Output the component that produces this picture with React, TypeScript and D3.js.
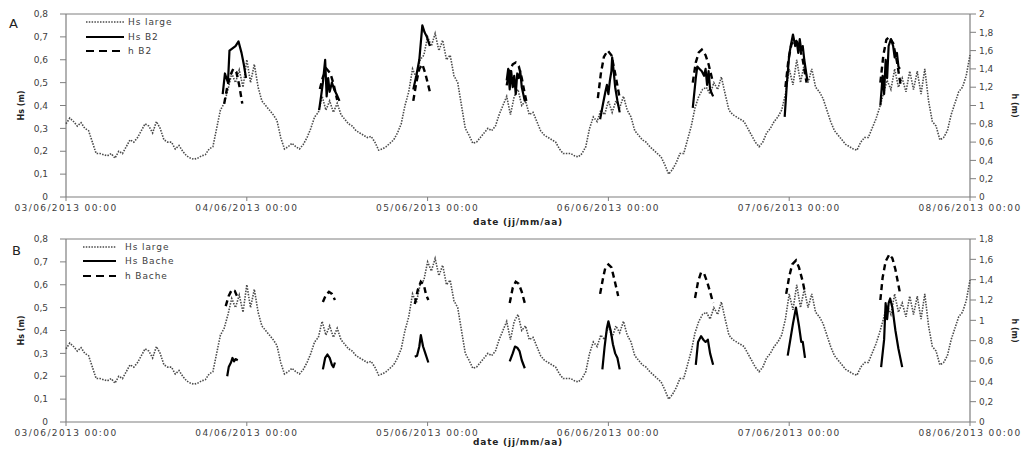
import React from "react";
import * as d3 from "d3";

const FONT = "'DejaVu Sans', Verdana, sans-serif";

// x axis: hours since 03/06/2013 00:00
const xTickHours = [0, 24, 48, 72, 96, 120];
const xTickLabels = [
  "03/06/2013 00:00",
  "04/06/2013 00:00",
  "05/06/2013 00:00",
  "06/06/2013 00:00",
  "07/06/2013 00:00",
  "08/06/2013 00:00",
];
const leftTicks = [0, 0.1, 0.2, 0.3, 0.4, 0.5, 0.6, 0.7, 0.8];
const rightTicksA = [0, 0.2, 0.4, 0.6, 0.8, 1, 1.2, 1.4, 1.6, 1.8, 2];
const rightTicksB = [0, 0.2, 0.4, 0.6, 0.8, 1, 1.2, 1.4, 1.6, 1.8];

// Hs large, half-hourly from 03/06/2013 00:00
const hsLargeStep = 0.5;
const hsLarge = [
  0.32, 0.345, 0.33, 0.31, 0.325, 0.3, 0.29, 0.24, 0.19, 0.19, 0.185, 0.18, 0.19, 0.17, 0.2, 0.19, 0.22, 0.25, 0.24, 0.26, 0.29, 0.32, 0.31, 0.28,
  0.33, 0.3, 0.25, 0.24, 0.24, 0.21, 0.225, 0.2, 0.18, 0.17, 0.165, 0.17, 0.18, 0.185, 0.21, 0.22, 0.3, 0.38, 0.41, 0.47, 0.54, 0.5, 0.555, 0.48,
  0.6, 0.5, 0.58, 0.48, 0.42, 0.4, 0.38, 0.36, 0.335, 0.26, 0.21, 0.22, 0.235, 0.22, 0.21, 0.23, 0.26, 0.3, 0.35, 0.37, 0.44, 0.38, 0.42, 0.37,
  0.41, 0.36, 0.34, 0.32, 0.31, 0.29, 0.28, 0.27, 0.26, 0.265, 0.24, 0.205, 0.21, 0.22, 0.235, 0.25, 0.28, 0.32, 0.4, 0.46, 0.56, 0.52, 0.6, 0.62,
  0.7, 0.66, 0.715, 0.64, 0.685, 0.6, 0.62, 0.53, 0.5, 0.4, 0.3, 0.27, 0.235, 0.24, 0.26, 0.28, 0.3, 0.29, 0.31, 0.36, 0.4, 0.44, 0.36, 0.44,
  0.47, 0.4, 0.42, 0.36, 0.37, 0.33, 0.29, 0.27, 0.26, 0.25, 0.24, 0.21, 0.19, 0.19, 0.19, 0.18, 0.175, 0.19, 0.22, 0.3, 0.35, 0.33, 0.38, 0.36,
  0.42, 0.37, 0.42, 0.39, 0.44, 0.38, 0.35, 0.29, 0.27, 0.25, 0.24, 0.22, 0.205, 0.19, 0.175, 0.14, 0.1, 0.12, 0.15, 0.19, 0.19, 0.25, 0.31, 0.39,
  0.44, 0.47, 0.48, 0.45, 0.5, 0.47, 0.525, 0.45, 0.38, 0.36, 0.35, 0.34, 0.33, 0.3, 0.27, 0.24, 0.22, 0.24, 0.28, 0.3, 0.33, 0.35, 0.38, 0.45,
  0.56, 0.49, 0.6, 0.5, 0.58, 0.5, 0.56, 0.48, 0.46, 0.43, 0.38, 0.33, 0.29, 0.27, 0.25, 0.23, 0.22, 0.21, 0.205, 0.24, 0.26, 0.26, 0.3, 0.34,
  0.39, 0.45, 0.51, 0.47, 0.56, 0.48, 0.52, 0.46, 0.55, 0.47, 0.55, 0.45, 0.56, 0.42, 0.33, 0.31, 0.25, 0.26, 0.29, 0.36, 0.41, 0.46, 0.48, 0.53,
  0.62,
];

// [hour, value] segments
const hsB2 = [
  [[20.8, 0.45], [21.1, 0.54], [21.5, 0.5], [21.7, 0.64], [22.1, 0.65], [22.5, 0.66], [22.9, 0.68], [23.3, 0.63], [23.6, 0.58], [23.9, 0.52]],
  [[33.6, 0.38], [33.9, 0.45], [34.1, 0.5], [34.4, 0.6], [34.6, 0.44], [34.8, 0.52], [35.0, 0.46], [35.3, 0.5], [35.6, 0.47], [35.9, 0.45], [36.3, 0.42]],
  [[46.1, 0.47], [46.5, 0.53], [46.9, 0.6], [47.3, 0.75], [47.6, 0.72], [47.9, 0.7], [48.3, 0.66]],
  [[58.5, 0.51], [58.7, 0.56], [58.9, 0.47], [59.1, 0.55], [59.3, 0.48], [59.5, 0.53], [59.7, 0.45], [59.9, 0.54], [60.1, 0.52], [60.3, 0.55], [60.5, 0.48], [60.7, 0.45], [60.9, 0.42]],
  [[70.9, 0.34], [71.3, 0.41], [71.6, 0.46], [71.8, 0.49], [72.0, 0.45], [72.2, 0.51], [72.4, 0.55], [72.5, 0.61], [72.7, 0.55], [72.9, 0.48], [73.2, 0.42], [73.5, 0.37]],
  [[83.2, 0.39], [83.6, 0.52], [83.8, 0.57], [84.1, 0.56], [84.4, 0.55], [84.7, 0.53], [84.9, 0.56], [85.1, 0.49], [85.3, 0.55], [85.5, 0.47], [85.9, 0.44]],
  [[95.4, 0.35], [95.7, 0.5], [96.0, 0.62], [96.2, 0.66], [96.5, 0.71], [96.8, 0.66], [97.0, 0.68], [97.2, 0.63], [97.4, 0.69], [97.6, 0.64], [97.8, 0.66], [98.0, 0.6], [98.4, 0.51]],
  [[108.1, 0.4], [108.4, 0.53], [108.6, 0.45], [108.8, 0.6], [109.0, 0.52], [109.2, 0.66], [109.5, 0.69], [109.8, 0.66], [110.0, 0.61], [110.3, 0.63], [110.5, 0.57], [110.7, 0.56]],
];

const hB2 = [
  [[21.0, 1.02], [21.4, 1.2], [21.8, 1.33], [22.2, 1.4], [22.6, 1.37], [23.0, 1.22], [23.4, 1.02]],
  [[33.7, 1.18], [34.1, 1.31], [34.6, 1.4], [35.1, 1.35], [35.5, 1.24], [36.0, 1.06]],
  [[46.1, 1.05], [46.5, 1.25], [46.9, 1.4], [47.3, 1.45], [47.7, 1.35], [48.0, 1.25], [48.3, 1.15]],
  [[58.5, 1.22], [58.9, 1.38], [59.3, 1.45], [59.7, 1.47], [60.1, 1.43], [60.5, 1.3], [60.8, 1.17], [61.1, 1.05]],
  [[70.6, 1.08], [71.0, 1.35], [71.4, 1.53], [71.9, 1.6], [72.4, 1.55], [72.9, 1.35], [73.5, 1.08]],
  [[83.2, 1.25], [83.6, 1.47], [84.0, 1.58], [84.4, 1.61], [84.9, 1.55], [85.3, 1.45], [85.8, 1.28]],
  [[95.5, 1.2], [95.9, 1.5], [96.3, 1.67], [96.8, 1.72], [97.3, 1.66], [97.8, 1.5], [98.3, 1.25]],
  [[108.1, 1.25], [108.5, 1.55], [108.9, 1.72], [109.3, 1.75], [109.8, 1.68], [110.3, 1.48], [110.8, 1.22]],
];

const hsBache = [
  [[21.4, 0.2], [21.6, 0.24], [21.9, 0.26], [22.1, 0.28], [22.3, 0.265], [22.5, 0.275], [22.8, 0.27]],
  [[34.1, 0.23], [34.4, 0.28], [34.7, 0.295], [35.0, 0.28], [35.3, 0.25], [35.5, 0.24], [35.7, 0.26]],
  [[46.3, 0.285], [46.6, 0.29], [46.9, 0.33], [47.1, 0.38], [47.4, 0.33], [47.7, 0.3], [48.1, 0.26]],
  [[58.9, 0.265], [59.3, 0.3], [59.6, 0.33], [59.9, 0.325], [60.2, 0.31], [60.5, 0.27], [60.9, 0.235]],
  [[71.2, 0.23], [71.5, 0.33], [71.8, 0.41], [72.0, 0.44], [72.3, 0.4], [72.6, 0.34], [72.9, 0.3], [73.2, 0.28], [73.5, 0.23]],
  [[83.6, 0.25], [83.9, 0.35], [84.3, 0.375], [84.6, 0.36], [84.9, 0.35], [85.2, 0.36], [85.5, 0.3], [85.9, 0.25]],
  [[95.8, 0.29], [96.2, 0.37], [96.5, 0.43], [96.9, 0.5], [97.3, 0.42], [97.6, 0.35], [97.8, 0.35], [98.1, 0.28]],
  [[108.2, 0.24], [108.6, 0.36], [108.8, 0.52], [109.0, 0.45], [109.2, 0.52], [109.4, 0.54], [109.7, 0.5], [110.1, 0.4], [110.5, 0.32], [111.0, 0.24]],
];

const hBache = [
  [[21.2, 1.14], [21.6, 1.24], [22.0, 1.3], [22.4, 1.29], [22.8, 1.22]],
  [[34.1, 1.18], [34.5, 1.25], [34.9, 1.28], [35.3, 1.26], [35.7, 1.2]],
  [[46.3, 1.16], [46.7, 1.3], [47.1, 1.38], [47.5, 1.35], [47.8, 1.25], [48.1, 1.2]],
  [[58.9, 1.17], [59.3, 1.32], [59.7, 1.38], [60.1, 1.36], [60.5, 1.28], [60.9, 1.17]],
  [[70.9, 1.26], [71.3, 1.42], [71.6, 1.52], [72.0, 1.55], [72.4, 1.52], [72.8, 1.4], [73.3, 1.24]],
  [[83.5, 1.22], [83.9, 1.38], [84.3, 1.47], [84.7, 1.46], [85.1, 1.38], [85.5, 1.28], [85.9, 1.17]],
  [[95.6, 1.26], [96.0, 1.43], [96.4, 1.55], [96.9, 1.59], [97.3, 1.52], [97.8, 1.38], [98.1, 1.27]],
  [[108.1, 1.2], [108.4, 1.42], [108.8, 1.58], [109.3, 1.65], [109.7, 1.61], [110.1, 1.5], [110.7, 1.27]],
];

const legendA = ["Hs large", "Hs B2", "h B2"];
const legendB = ["Hs large", "Hs Bache", "h Bache"];

const LEFT = 66;
const RIGHT = 970;
const AXIS = "#7f7f7f";
const TXT = "#404040";

const fmt = (v: number) => String(Math.round(v * 10) / 10).replace(".", ",");

const DOT = { stroke: "#4a4a4a", strokeWidth: 1.6, strokeDasharray: "1.5 1.3" };
const SOLID = { stroke: "#000", strokeWidth: 2.2 };
const DASH = { stroke: "#000", strokeWidth: 2.4, strokeDasharray: "6 4" };

function Panel(props: any) {
  const { top, bottom, rightMax, rightTicks, solid, dashed, legend, lg, label, titleY } = props;
  const x = d3.scaleLinear().domain([0, 120]).range([LEFT, RIGHT]);
  const yL = d3.scaleLinear().domain([0, 0.8]).range([bottom, top]);
  const yR = d3.scaleLinear().domain([0, rightMax]).range([bottom, top]);
  const mid = (top + bottom) / 2;

  const lineL = d3.line<number[]>().x((d) => x(d[0])).y((d) => yL(d[1]));
  const lineR = d3.line<number[]>().x((d) => x(d[0])).y((d) => yR(d[1]));
  const large = d3
    .line<number>()
    .x((_, i) => x(i * hsLargeStep))
    .y((d) => yL(d))(hsLarge) as string;

  return (
    <g>
      <line x1={LEFT} x2={RIGHT} y1={top} y2={top} stroke={AXIS} strokeWidth={1} />
      <line x1={LEFT} x2={RIGHT} y1={bottom} y2={bottom} stroke={AXIS} strokeWidth={1.2} />
      <line x1={LEFT} x2={LEFT} y1={top} y2={bottom} stroke={AXIS} strokeWidth={1.2} />
      <line x1={RIGHT} x2={RIGHT} y1={top} y2={bottom} stroke={AXIS} strokeWidth={1.2} />

      {leftTicks.map((t) => (
        <g key={"l" + t}>
          <line x1={LEFT - 6} x2={LEFT} y1={yL(t)} y2={yL(t)} stroke={AXIS} />
          <text x={48} y={yL(t) + 3.2} textAnchor="end" fontSize={9} fill={TXT} fontFamily={FONT}>
            {fmt(t)}
          </text>
        </g>
      ))}
      {rightTicks.map((t: number) => (
        <g key={"r" + t}>
          <line x1={RIGHT} x2={RIGHT + 6} y1={yR(t)} y2={yR(t)} stroke={AXIS} />
          <text x={979} y={yR(t) + 3.2} textAnchor="start" fontSize={9} fill={TXT} fontFamily={FONT}>
            {fmt(t)}
          </text>
        </g>
      ))}
      {xTickHours.map((h, i) => (
        <g key={"x" + h}>
          <line x1={x(h)} x2={x(h)} y1={bottom} y2={bottom + 4} stroke={AXIS} />
          <text x={x(h)} y={bottom + 14} textAnchor="middle" fontSize={9} letterSpacing={1.4} fill={TXT} fontFamily={FONT}>
            {xTickLabels[i]}
          </text>
        </g>
      ))}
      <text x={(LEFT + RIGHT) / 2} y={titleY} textAnchor="middle" fontSize={9} fontWeight="bold" letterSpacing={0.8} fill="#222" fontFamily={FONT}>
        date (jj/mm/aa)
      </text>
      <text transform={`translate(24,${mid}) rotate(-90)`} textAnchor="middle" fontSize={8} fontWeight="bold" fill="#222" fontFamily={FONT}>
        Hs (m)
      </text>
      <text transform={`translate(1012,${mid}) rotate(90)`} textAnchor="middle" fontSize={8} fontWeight="bold" fill="#222" fontFamily={FONT}>
        h (m)
      </text>
      <text x={label.x} y={label.y} fontSize={13} fill="#222" fontFamily={FONT}>
        {label.t}
      </text>

      <path d={large} fill="none" {...DOT} />
      {solid.map((s: number[][], i: number) => (
        <path key={"s" + i} d={lineL(s) as string} fill="none" {...SOLID} strokeLinejoin="round" />
      ))}
      {dashed.map((s: number[][], i: number) => (
        <path key={"d" + i} d={lineR(s) as string} fill="none" {...DASH} />
      ))}

      <line x1={lg.x1} x2={lg.x2} y1={lg.ys[0]} y2={lg.ys[0]} {...DOT} />
      <line x1={lg.x1} x2={lg.x2} y1={lg.ys[1]} y2={lg.ys[1]} {...SOLID} strokeWidth={2} />
      <line x1={lg.x1} x2={lg.x2} y1={lg.ys[2]} y2={lg.ys[2]} stroke="#000" strokeWidth={2.2} strokeDasharray="8 5" />
      {legend.map((n: string, i: number) => (
        <text key={n} x={lg.tx} y={lg.ys[i] + 3.2} fontSize={9} letterSpacing={0.9} fill={TXT} fontFamily={FONT}>
          {n}
        </text>
      ))}
    </g>
  );
}

export default function App() {
  return (
    <svg width={1027} height={450} style={{ position: "absolute", left: 0, top: 0, background: "#fff" }}>
      <rect width={1027} height={450} fill="#fff" />
      <Panel
        top={14}
        bottom={197}
        rightMax={2}
        rightTicks={rightTicksA}
        solid={hsB2}
        dashed={hB2}
        legend={legendA}
        lg={{ x1: 86, x2: 124, ys: [22, 37, 51], tx: 128 }}
        label={{ t: "A", x: 9, y: 28 }}
        titleY={225}
      />
      <Panel
        top={239}
        bottom={422}
        rightMax={1.8}
        rightTicks={rightTicksB}
        solid={hsBache}
        dashed={hBache}
        legend={legendB}
        lg={{ x1: 83, x2: 116, ys: [247, 261, 276], tx: 125 }}
        label={{ t: "B", x: 12, y: 255 }}
        titleY={445}
      />
    </svg>
  );
}
